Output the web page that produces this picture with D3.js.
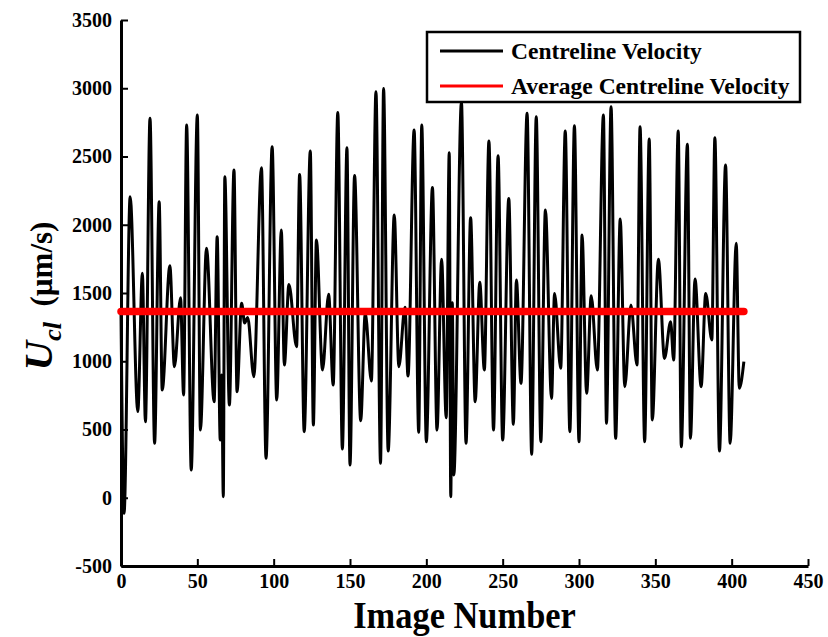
<!DOCTYPE html>
<html>
<head>
<meta charset="utf-8">
<script src="https://cdn.jsdelivr.net/npm/d3@7"></script>
<style>
  html, body { margin: 0; padding: 0; background: #fff; }
  svg { display: block; }
  text { font-family: "Liberation Serif", "Times New Roman", serif; font-weight: bold; }
</style>
</head>
<body>
<svg id="chart" width="828" height="637"></svg>
<script>
// Image number of each turning point of the centreline velocity trace
const imageNumber = [0, 2, 6, 11, 14, 16, 19, 22, 25, 27, 32, 35, 39, 41, 43, 46, 50, 52, 56, 61,
  63, 65, 66, 67, 68, 71, 74, 76, 79, 81, 83, 87, 92, 95, 99, 102, 105, 107, 110, 115,
  117, 120, 124, 126, 128, 132, 136, 139, 142, 145, 148, 150, 153, 157, 160, 164, 167, 170, 172, 175,
  179, 182, 186, 188, 192, 195, 197, 200, 204, 207, 210, 213, 215, 216, 217, 218, 223, 226, 229, 232,
  235, 238, 241, 244, 247, 250, 254, 257, 259, 262, 266, 269, 272, 275, 278, 282, 284, 288, 291, 294,
  297, 300, 302, 305, 308, 312, 316, 318, 321, 324, 327, 330, 334, 338, 340, 343, 346, 348, 352, 356,
  360, 362, 365, 367, 371, 373, 376, 380, 383, 387, 389, 392, 396, 399, 403, 405, 408];

// Centreline velocity (µm/s) at those image numbers
const centrelineVelocity = [1350, -114, 2206, 631, 1644, 557, 2780, 399, 2169, 789, 1700, 960, 1466, 753, 2731, 203, 2804, 496, 1827, 704,
  1913, 423, 900, 8, 2352, 679, 2401, 777, 1424, 1280, 1320, 887, 2418, 289, 2572, 716, 1961, 972, 1563, 1107,
  2369, 484, 2540, 533, 1888, 936, 1490, 826, 2823, 357, 2565, 240, 2360, 565, 1351, 855, 2975, 252, 2999, 342,
  2071, 960, 1395, 892, 2694, 479, 2731, 411, 2272, 496, 1747, 587, 2528, 8, 1429, 167, 2900, 399, 2052, 704,
  1578, 936, 2613, 496, 2506, 423, 2193, 538, 1595, 838, 2816, 318, 2792, 411, 2108, 728, 1497, 948, 2687, 484,
  2726, 411, 1925, 765, 1480, 936, 2804, 545, 2865, 435, 2042, 814, 1412, 972, 2718, 411, 2628, 570, 1747, 1021,
  1290, 1009, 2687, 374, 2589, 435, 1602, 814, 1497, 1156, 2638, 342, 2438, 399, 1864, 802, 997];

// Mean centreline velocity over the run (µm/s) and the span it covers
const averageVelocity = [1365];
const averageSpan = [0, 408];

const xTicks = [0, 50, 100, 150, 200, 250, 300, 350, 400, 450];
const yTicks = [-500, 0, 500, 1000, 1500, 2000, 2500, 3000, 3500];

const legendLabels = ["Centreline Velocity", "Average Centreline Velocity"];
const legendColors = ["#000000", "#ff0000"];

const svg = d3.select("#chart");

const x = d3.scaleLinear().domain([0, 450]).range([121, 808]);
const y = d3.scaleLinear().domain([-500, 3500]).range([566, 20]);

// plain hyphen for negatives
const fmt = d => String(d);

// axes (ticks point inward)
const xAxis = svg.append("g")
  .attr("transform", `translate(0,${y(-500)})`)
  .call(d3.axisBottom(x).tickValues(xTicks).tickFormat(fmt)
    .tickSizeInner(-7).tickSizeOuter(0).tickPadding(8));
const yAxis = svg.append("g")
  .attr("transform", `translate(${x(0)},0)`)
  .call(d3.axisLeft(y).tickValues(yTicks).tickFormat(fmt)
    .tickSizeInner(-7).tickSizeOuter(0).tickPadding(9));

[xAxis, yAxis].forEach(g => {
  g.select(".domain").attr("stroke", "#000").attr("stroke-width", 3);
  g.selectAll(".tick line").attr("stroke", "#000").attr("stroke-width", 2);
  g.selectAll(".tick text").attr("fill", "#000")
    .style("font-size", "20px").style("font-family", "'Liberation Serif', serif").style("font-weight", "bold");
});

// velocity trace
const points = imageNumber.map((n, i) => [n, centrelineVelocity[i]]);
svg.append("path")
  .datum(points)
  .attr("fill", "none")
  .attr("stroke", "#000")
  .attr("stroke-width", 3)
  .attr("stroke-linejoin", "round")
  .attr("d", d3.line().x(d => x(d[0])).y(d => y(d[1])).curve(d3.curveMonotoneX));

// average line drawn over the trace
svg.append("line")
  .attr("x1", x(averageSpan[0])).attr("x2", x(averageSpan[1]))
  .attr("y1", y(averageVelocity[0])).attr("y2", y(averageVelocity[0]))
  .attr("stroke", "#ff0000").attr("stroke-width", 7.5).attr("stroke-linecap", "round");

// legend
const legend = svg.append("g");
legend.append("rect")
  .attr("x", 427).attr("y", 32).attr("width", 373).attr("height", 70)
  .attr("fill", "#fff").attr("stroke", "#000").attr("stroke-width", 2.5);
legendLabels.forEach((label, i) => {
  const ly = 51 + i * 35;
  legend.append("line")
    .attr("x1", 440).attr("x2", 503).attr("y1", ly).attr("y2", ly)
    .attr("stroke", legendColors[i]).attr("stroke-width", 3);
  legend.append("text")
    .attr("x", 511).attr("y", ly + 8)
    .style("font-size", "23.5px")
    .text(label);
});

// axis titles
svg.append("text")
  .attr("transform", `translate(${x(225)},628) scale(0.93,1)`)
  .attr("text-anchor", "middle")
  .style("font-size", "37px")
  .text("Image Number");

const yTitle = svg.append("text")
  .attr("transform", "translate(52,296) rotate(-90)")
  .attr("text-anchor", "middle");
yTitle.append("tspan").style("font-style", "italic").style("font-size", "41px").text("U");
yTitle.append("tspan").style("font-style", "italic").style("font-size", "26px").attr("dy", 9).text("cl");
yTitle.append("tspan").style("font-size", "31px").attr("dy", -9).text("\u2002(\u00b5m/s)");
</script>
</body>
</html>
